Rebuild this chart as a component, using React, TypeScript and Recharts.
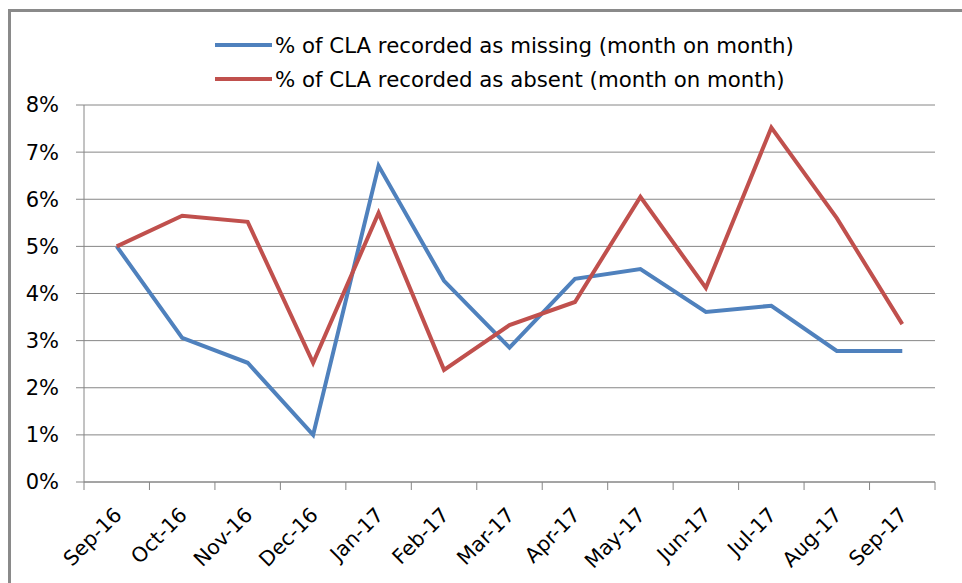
import { LineChart, Line, XAxis, YAxis, CartesianGrid } from "recharts"

const months = [
  "Sep-16", "Oct-16", "Nov-16", "Dec-16", "Jan-17", "Feb-17", "Mar-17",
  "Apr-17", "May-17", "Jun-17", "Jul-17", "Aug-17", "Sep-17",
]
const missing = [5.0, 3.06, 2.53, 1.0, 6.71, 4.27, 2.85, 4.31, 4.52, 3.61, 3.74, 2.78, 2.78]
const absent = [5.0, 5.65, 5.52, 2.53, 5.71, 2.38, 3.33, 3.82, 6.05, 4.12, 7.52, 5.6, 3.35]
const yTicks = [0, 1, 2, 3, 4, 5, 6, 7, 8]

const seriesNames = {
  missing: "% of CLA recorded as missing (month on month)",
  absent: "% of CLA recorded as absent (month on month)",
}
const colors = { missing: "#4F81BD", absent: "#C0504D" }

const data = months.map((m, i) => ({ month: m, missing: missing[i], absent: absent[i] }))

const W = 962
const H = 583
const margin = { top: 105, right: 27, left: 0, bottom: 0 }
const yAxisW = 84
const plotW = W - yAxisW - margin.right
const half = plotW / (months.length * 2)
const font = "'DejaVu Sans', sans-serif"
const grid = "#868686"

const XTick = ({ x, y, payload, index }: any) => (
  <g>
    <line x1={x - half} x2={x - half} y1={y - 8} y2={y} stroke={grid} />
    {index === months.length - 1 && <line x1={x + half} x2={x + half} y1={y - 8} y2={y} stroke={grid} />}
    <text
      transform={`translate(${x - 4},${y + 16}) rotate(-45)`}
      textAnchor="end"
      dy="0.7em"
      fontSize={20.5}
      fontFamily={font}
      fill="#000"
    >
      {payload.value}
    </text>
  </g>
)

export default function App() {
  return (
    <div style={{ position: "absolute", left: 0, top: 0, width: W, height: H, background: "#fff", overflow: "hidden" }}>
      <div
        style={{
          position: "absolute", left: 8, top: 9, width: W, height: H,
          borderTop: "3px solid #8a8a8a", borderLeft: "3px solid #8a8a8a",
        }}
      />
      <div style={{ position: "absolute", left: 215, top: 28, fontFamily: font, fontSize: 21.3, color: "#000" }}>
        {(["missing", "absent"] as const).map((k) => (
          <div key={k} style={{ display: "flex", alignItems: "center", height: 34 }}>
            <span style={{ display: "inline-block", width: 57, height: 4, background: colors[k], marginRight: 3 }} />
            <span>{seriesNames[k]}</span>
          </div>
        ))}
      </div>
      <LineChart width={W} height={H} data={data} margin={margin} style={{ position: "absolute", left: 0, top: 0 }}>
        <CartesianGrid vertical={false} stroke={grid} strokeWidth={1} />
        <XAxis
          dataKey="month"
          padding={{ left: half, right: half }}
          height={H - 482}
          tickSize={8}
          tickMargin={0}
          tickLine={false}
          axisLine={{ stroke: grid }}
          tick={<XTick />}
          interval={0}
        />
        <YAxis
          width={yAxisW}
          domain={[0, 8]}
          ticks={yTicks}
          tickFormatter={(v: number) => `${v}%`}
          tickSize={8}
          tickMargin={17}
          tickLine={{ stroke: grid }}
          axisLine={{ stroke: grid }}
          tick={{ fontSize: 21, fontFamily: font, fill: "#000" }}
        />
        <Line dataKey="missing" stroke={colors.missing} strokeWidth={4} dot={false} isAnimationActive={false} />
        <Line dataKey="absent" stroke={colors.absent} strokeWidth={4} dot={false} isAnimationActive={false} />
      </LineChart>
    </div>
  )
}
